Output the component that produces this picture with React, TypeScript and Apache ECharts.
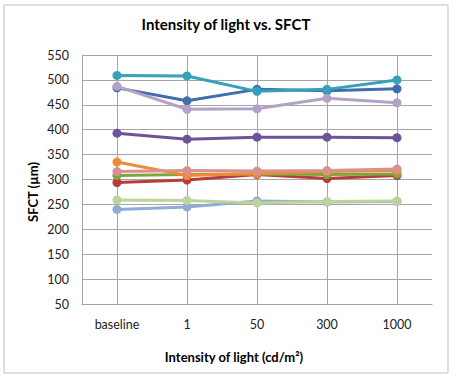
import React, { useEffect, useRef } from "react";
import * as echarts from "echarts";

const categories = ["baseline", "1", "50", "300", "1000"];
const blueVals = [484, 458, 481, 478, 482];
const redVals = [294, 299, 310, 302, 308];
const greenVals = [308, 310, 311, 310, 311];
const purpleVals = [393, 381, 385, 385, 384];
const tealVals = [509, 508, 477, 481, 500];
const orangeVals = [335, 308, 312, 316, 318];
const lightBlueVals = [240, 245, 257, 255, 256];
const pinkVals = [316, 318, 317, 318, 321];
const lightGreenVals = [259, 258, 253, 256, 257];
const lightPurpleVals = [487, 441, 442, 463, 454];

const seriesDefs = [
  { name: "S1", data: blueVals, color: "#3F6EAB" },
  { name: "S2", data: redVals, color: "#B73C3A" },
  { name: "S3", data: greenVals, color: "#7FA53F" },
  { name: "S4", data: purpleVals, color: "#6E5398" },
  { name: "S5", data: tealVals, color: "#35A1BB" },
  { name: "S6", data: orangeVals, color: "#EE8B34" },
  { name: "S7", data: lightBlueVals, color: "#8FABD8" },
  { name: "S8", data: pinkVals, color: "#D9918F" },
  { name: "S9", data: lightGreenVals, color: "#BCD498" },
  { name: "S10", data: lightPurpleVals, color: "#B3A2C8" },
];

const FONT = "Lato, 'Open Sans', sans-serif";
const GRID = "#A6A6A6";

export default function App() {
  const ref = useRef<HTMLDivElement>(null);
  useEffect(() => {
    if (!ref.current) return;
    const chart = echarts.init(ref.current, null, { renderer: "svg" });
    const gridCats = Array.from({ length: categories.length * 2 + 1 }, (_, i) => String(i));
    chart.setOption({
      animation: false,
      backgroundColor: "#ffffff",
      title: {
        text: "Intensity of light vs. SFCT",
        left: 221,
        top: 11,
        textAlign: "center",
        textStyle: { fontFamily: FONT, fontSize: 15, fontWeight: "bold", color: "#000" },
      },
      graphic: [
        {
          type: "rect",
          shape: { x: 4, y: 5, width: 444, height: 368 },
          style: { fill: "none", stroke: "#BFBFBF", lineWidth: 1 },
          silent: true,
          z: -1,
        },
        {
          type: "text",
          x: 234,
          y: 357,
          style: {
            text: "Intensity of light (cd/m²)",
            fontFamily: FONT,
            fontSize: 13,
            fontWeight: "bold",
            fill: "#000",
            align: "center",
            verticalAlign: "middle",
          },
        },
        {
          type: "text",
          x: 33,
          y: 192,
          rotation: Math.PI / 2,
          style: {
            text: "SFCT (µm)",
            fontFamily: FONT,
            fontSize: 13,
            fontWeight: "bold",
            fill: "#000",
            align: "center",
            verticalAlign: "middle",
          },
        },
      ],
      grid: { left: 82, right: 33, top: 55, bottom: 73, containLabel: false },
      xAxis: [
        {
          type: "category",
          data: categories,
          boundaryGap: true,
          axisLine: { show: true, lineStyle: { color: GRID, width: 1 } },
          axisTick: { show: false },
          axisLabel: { margin: 14, fontFamily: FONT, fontSize: 12.5, color: "#222" },
          splitLine: { show: false },
        },
        {
          type: "category",
          data: gridCats,
          boundaryGap: false,
          position: "bottom",
          axisLine: { show: false },
          axisTick: { show: false },
          axisLabel: { show: false },
          splitLine: {
            show: true,
            interval: (index: number) => index % 2 === 1,
            lineStyle: { color: GRID, width: 1 },
          },
        },
      ],
      yAxis: {
        type: "value",
        min: 50,
        max: 550,
        interval: 50,
        axisLine: { show: true, lineStyle: { color: GRID, width: 1 } },
        axisTick: { show: false },
        axisLabel: { margin: 13, fontFamily: FONT, fontSize: 12.5, color: "#222" },
        splitLine: { show: true, lineStyle: { color: GRID, width: 1 } },
      },
      series: seriesDefs.map((s, i) => ({
        name: s.name,
        type: "line",
        xAxisIndex: 0,
        data: s.data,
        symbol: "circle",
        symbolSize: 9,
        z: 2 + i,
        lineStyle: { color: s.color, width: 3 },
        itemStyle: { color: s.color },
        emphasis: { disabled: true },
      })),
    });
    return () => chart.dispose();
  }, []);
  return (
    <div
      ref={ref}
      style={{ position: "fixed", left: 0, top: 0, width: 465, height: 377 }}
    />
  );
}
